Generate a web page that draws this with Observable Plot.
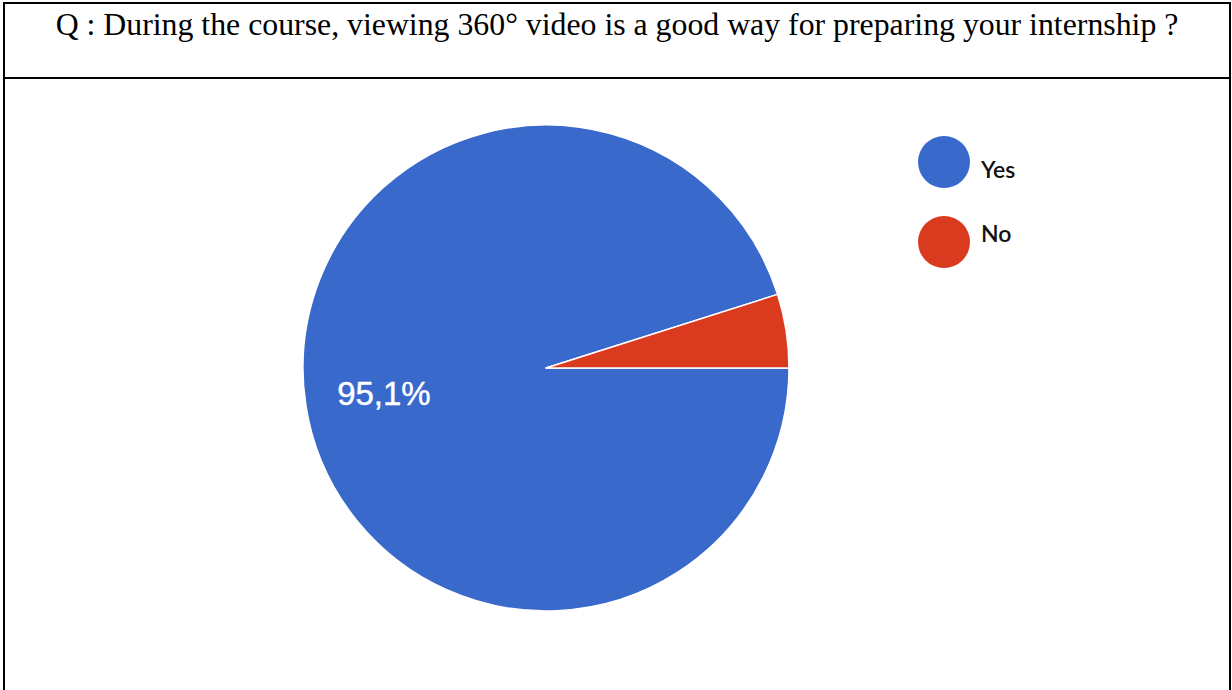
<!DOCTYPE html>
<html>
<head>
<meta charset="utf-8">
<script src="https://cdn.jsdelivr.net/npm/d3@7"></script>
<script src="https://cdn.jsdelivr.net/npm/@observablehq/plot@0.6"></script>
<style>
  html, body { margin: 0; padding: 0; background: #fff; width: 1232px; height: 690px; overflow: hidden; }
  #frame { position: absolute; left: 3px; top: 2px; width: 1224px; height: 720px; border: 2px solid #000; }
  #title { position: absolute; left: 0; top: 0; width: 1224px; height: 73px; border-bottom: 2px solid #000;
           font-family: "Liberation Serif", "Times New Roman", serif; font-size: 31.8px; color: #000; text-align: center; }
  #title span { position: absolute; left: 0; right: 0; top: 3px; line-height: 36px; white-space: nowrap; }
  #chart { position: absolute; left: 0; top: 77px; }
  .leg { position: absolute; font-family: Lato, "Open Sans", sans-serif; font-size: 23px; font-weight: 600; color: #111; }
  .sw { position: absolute; width: 52px; height: 52px; border-radius: 50%; }
</style>
</head>
<body>
<div id="frame"><div id="title"><span>Q : During the course, viewing 360° video is a good way for preparing your internship ?</span></div></div>
<div id="chart"></div>
<script>
const categories = ["Yes", "No"];
const values = [95.1, 4.9];
const colors = ["#3869CB", "#DA3B1F"];
const valueLabels = ["95,1%", ""];

const data = categories.map((c, i) => ({category: c, value: values[i], label: valueLabels[i]}));

function pieMark(index, scales, vals, dimensions) {
  const cx = scales.x(0), cy = scales.y(0);
  const r = Math.abs(scales.x(1) - scales.x(0));
  const pie = d3.pie().sort(null).value(d => d.value).startAngle(Math.PI / 2).endAngle(Math.PI / 2 + 2 * Math.PI);
  const arcs = pie(data);
  const arc = d3.arc().innerRadius(0).outerRadius(r);
  const labelArc = d3.arc().innerRadius(r * 0.675).outerRadius(r * 0.675);
  const g = d3.create("svg:g").attr("transform", `translate(${cx},${cy})`);
  g.selectAll("path").data(arcs).join("path")
    .attr("d", arc)
    .attr("fill", d => scales.color(d.data.category))
    .attr("stroke", "#fff")
    .attr("stroke-width", 1.5)
    .attr("stroke-linejoin", "round");
  g.selectAll("text").data(arcs.filter(d => d.data.label)).join("text")
    .attr("transform", d => `translate(${labelArc.centroid(d)})`)
    .attr("text-anchor", "middle")
    .attr("dy", "0.36em")
    .attr("fill", "#fff")
    .attr("font-family", "'Liberation Sans', Arial, sans-serif")
    .attr("font-size", 33)
    .attr("stroke", "#fff")
    .attr("stroke-width", 0.4)
    .text(d => d.data.label);
  return g.node();
}

const plot = Plot.plot({
  width: 1232,
  height: 613,
  margin: 0,
  x: {domain: [-1, 1], range: [303, 789], axis: null},
  y: {domain: [-1, 1], range: [534, 48], axis: null},
  color: {domain: categories, range: colors},
  marks: [pieMark]
});
document.getElementById("chart").appendChild(plot);

// legend
const legTop = [162, 242];
const legTextBase = [177, 241];
categories.forEach((c, i) => {
  const sw = document.createElement("div");
  sw.className = "sw";
  sw.style.left = (944 - 26) + "px";
  sw.style.top = (legTop[i] - 26) + "px";
  sw.style.background = colors[i];
  document.body.appendChild(sw);
  const t = document.createElement("div");
  t.className = "leg";
  t.style.left = "981px";
  t.style.top = (legTextBase[i] - 22) + "px";
  t.style.lineHeight = "28px";
  t.textContent = c;
  document.body.appendChild(t);
});
</script>
</body>
</html>
